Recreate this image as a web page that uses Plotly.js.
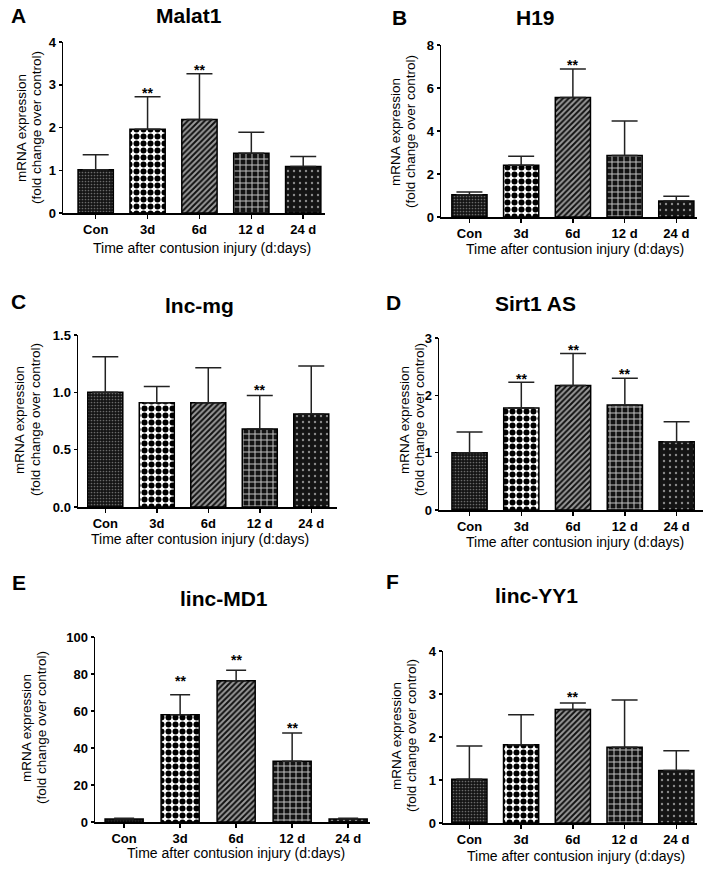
<!DOCTYPE html>
<html>
<head>
<meta charset="utf-8">
<script src="https://cdn.plot.ly/plotly-3.0.1.min.js"></script>
<style>html,body{margin:0;padding:0;background:#fff;}#chart{width:708px;height:875px;}</style>
</head>
<body>
<div id="chart"></div>
<script>
// ---- data ----
const categories = ['Con', '3d', '6d', '12 d', '24 d'];

const malat1Mean = [1.01, 1.96, 2.19, 1.40, 1.09];
const malat1Err  = [0.35, 0.76, 1.07, 0.49, 0.23];
const malat1Star = [null, 2.87, 3.42, null, null];

const h19Mean = [1.04, 2.41, 5.56, 2.86, 0.75];
const h19Err  = [0.12, 0.42, 1.32, 1.60, 0.21];
const h19Star = [null, null, 7.22, null, null];

const lncMgMean = [1.00, 0.91, 0.91, 0.68, 0.81];
const lncMgErr  = [0.31, 0.14, 0.305, 0.293, 0.42];
const lncMgStar = [null, null, null, 1.05, null];

const sirt1Mean = [1.00, 1.78, 2.17, 1.83, 1.19];
const sirt1Err  = [0.36, 0.45, 0.56, 0.47, 0.35];
const sirt1Star = [null, 2.33, 2.84, 2.42, null];

const lincMD1Mean = [1.6, 58.0, 76.4, 32.8, 1.6];
const lincMD1Err  = [0.4, 10.8, 5.6, 15.3, 0.4];
const lincMD1Star = [null, 77.8, 89.2, 52.6, null];

const lincYY1Mean = [1.02, 1.82, 2.64, 1.76, 1.22];
const lincYY1Err  = [0.77, 0.70, 0.15, 1.10, 0.46];
const lincYY1Star = [null, null, 2.99, null, null];

const panelTitles  = ['Malat1', 'H19', 'lnc-mg', 'Sirt1 AS', 'linc-MD1', 'linc-YY1'];
const panelLetters = ['A', 'B', 'C', 'D', 'E', 'F'];
const yTickVals = [[0, 1, 2, 3, 4], [0, 2, 4, 6, 8], [0, 0.5, 1.0, 1.5], [0, 1, 2, 3], [0, 20, 40, 60, 80, 100], [0, 1, 2, 3, 4]];
const yTickText = [['0', '1', '2', '3', '4'], ['0', '2', '4', '6', '8'], ['0.0', '0.5', '1.0', '1.5'], ['0', '1', '2', '3'], ['0', '20', '40', '60', '80', '100'], ['0', '1', '2', '3', '4']];
const yTitle1 = 'mRNA expression';
const yTitle2 = '(fold change over control)';
const xTitle = 'Time after contusion injury (d:days)';

// ---- layout / style (pixel geometry) ----
const W = 708, H = 875;
const FONT = 'Arial, "Liberation Sans", Helvetica, sans-serif';
const panels = [
  {mean: malat1Mean,  err: malat1Err,  star: malat1Star,  px: [63, 325],  py: [42, 213],  xr: [-0.63, 4.42], yr: [0, 4],   cap: 13,
   title: [189, 16], letter: [18, 16], yt: [21, 36, 128], xt: [202, 248]},
  {mean: h19Mean,     err: h19Err,     star: h19Star,     px: [441, 697], py: [45, 217],  xr: [-0.55, 4.40], yr: [0, 8],   cap: 13,
   title: [535, 17], letter: [399, 17], yt: [396, 411, 132], xt: [575, 249]},
  {mean: lncMgMean,   err: lncMgErr,   star: lncMgStar,   px: [78, 337],  py: [335, 507], xr: [-0.53, 4.50], yr: [0, 1.5], cap: 13,
   title: [199, 306], letter: [18, 301], yt: [19, 35, 420], xt: [200, 539]},
  {mean: sirt1Mean,   err: sirt1Err,   star: sirt1Star,   px: [439, 703], py: [338, 510], xr: [-0.59, 4.51], yr: [0, 3],   cap: 13,
   title: [535, 303], letter: [393, 302], yt: [404, 419, 420], xt: [575, 542]},
  {mean: lincMD1Mean, err: lincMD1Err, star: lincMD1Star, px: [95, 370],  py: [637, 822], xr: [-0.52, 4.39], yr: [0, 100], cap: 10,
   title: [224, 598], letter: [19, 582], yt: [26, 41, 728], xt: [236, 853]},
  {mean: lincYY1Mean, err: lincYY1Err, star: lincYY1Star, px: [443, 697], py: [651, 823], xr: [-0.51, 4.40], yr: [0, 4],   cap: 13,
   title: [536, 595], letter: [392, 581], yt: [396, 411, 736], xt: [576, 856]}
];

const patterns = [
  {shape: '.', bgcolor: '#141414', fgcolor: '#6a6a6a', size: 3, solidity: 0.25},
  {shape: '.', bgcolor: '#ffffff', fgcolor: '#000000', size: 7, solidity: 0.58},
  {shape: '/', bgcolor: '#9a9a9a', fgcolor: '#111111', size: 4, solidity: 0.5},
  {shape: '+', bgcolor: '#141414', fgcolor: '#c4c4c4', size: 6, solidity: 0.3},
  {shape: '.', bgcolor: '#141414', fgcolor: '#8a8a8a', size: 6, solidity: 0.12}
];

const px2x = v => v / W;
const px2y = v => 1 - v / H;

const data = [];
const layout = {
  width: W, height: H,
  margin: {l: 0, r: 0, t: 0, b: 0},
  paper_bgcolor: '#fff', plot_bgcolor: '#fff',
  showlegend: false,
  font: {family: FONT, color: '#000'},
  annotations: []
};

panels.forEach((p, i) => {
  const n = i + 1;
  const xa = n === 1 ? 'xaxis' : 'xaxis' + n;
  const ya = n === 1 ? 'yaxis' : 'yaxis' + n;
  const xr = n === 1 ? 'x' : 'x' + n;
  const yr = n === 1 ? 'y' : 'y' + n;

  data.push({
    type: 'bar', x: categories, y: p.mean, xaxis: xr, yaxis: yr,
    width: 0.68,
    marker: {
      color: '#141414',
      line: {color: '#000', width: 1.5},
      pattern: {
        shape: patterns.map(q => q.shape),
        bgcolor: patterns.map(q => q.bgcolor),
        fgcolor: patterns.map(q => q.fgcolor),
        size: patterns.map(q => q.size),
        solidity: patterns.map(q => q.solidity),
        fillmode: 'replace'
      }
    },
    error_y: {type: 'data', array: p.err, arrayminus: p.err.map(() => 0), symmetric: false,
              color: '#222', thickness: 1.5, width: p.cap},
    hoverinfo: 'skip'
  });

  layout[xa] = {
    domain: [px2x(p.px[0]), px2x(p.px[1])], anchor: yr, type: 'category',
    range: p.xr, showline: true, linecolor: '#000', linewidth: 1.5,
    ticks: 'outside', ticklen: 4, tickwidth: 1.5, tickcolor: '#000',
    tickfont: {family: FONT, size: 13, color: '#000', weight: 'bold'},
    showgrid: false, zeroline: false, fixedrange: true
  };
  layout[ya] = {
    domain: [px2y(p.py[1]), px2y(p.py[0])], anchor: xr,
    range: p.yr, tickvals: yTickVals[i], ticktext: yTickText[i],
    showline: true, linecolor: '#000', linewidth: 1.5,
    ticks: 'outside', ticklen: 3, tickwidth: 1.5, tickcolor: '#000',
    tickfont: {family: FONT, size: 13, color: '#000', weight: 'bold'},
    showgrid: false, zeroline: false, fixedrange: true
  };

  const ann = layout.annotations;
  ann.push({xref: 'paper', yref: 'paper', x: px2x(p.title[0]), y: px2y(p.title[1]), xanchor: 'center', yanchor: 'middle',
            text: panelTitles[i], showarrow: false, font: {family: FONT, size: 21, weight: 'bold', color: '#000'}});
  ann.push({xref: 'paper', yref: 'paper', x: px2x(p.letter[0]), y: px2y(p.letter[1]), xanchor: 'center', yanchor: 'middle',
            text: panelLetters[i], showarrow: false, font: {family: FONT, size: 21, weight: 'bold', color: '#000'}});
  ann.push({xref: 'paper', yref: 'paper', x: px2x(p.yt[0]), y: px2y(p.yt[2]), xanchor: 'center', yanchor: 'middle',
            text: yTitle1, textangle: -90, showarrow: false, font: {family: FONT, size: 13.5, color: '#000'}});
  ann.push({xref: 'paper', yref: 'paper', x: px2x(p.yt[1]), y: px2y(p.yt[2]), xanchor: 'center', yanchor: 'middle',
            text: yTitle2, textangle: -90, showarrow: false, font: {family: FONT, size: 13.5, color: '#000'}});
  ann.push({xref: 'paper', yref: 'paper', x: px2x(p.xt[0]), y: px2y(p.xt[1]), xanchor: 'center', yanchor: 'middle',
            text: xTitle, showarrow: false, font: {family: FONT, size: 14, color: '#000'}});
  p.star.forEach((s, k) => {
    if (s === null) return;
    ann.push({xref: xr, yref: yr, x: categories[k], y: s, xanchor: 'center', yanchor: 'middle', yshift: -3,
              text: '**', showarrow: false, font: {family: FONT, size: 14, weight: 'bold', color: '#000'}});
  });
});

Plotly.newPlot('chart', data, layout, {staticPlot: true, displayModeBar: false});
</script>
</body>
</html>
